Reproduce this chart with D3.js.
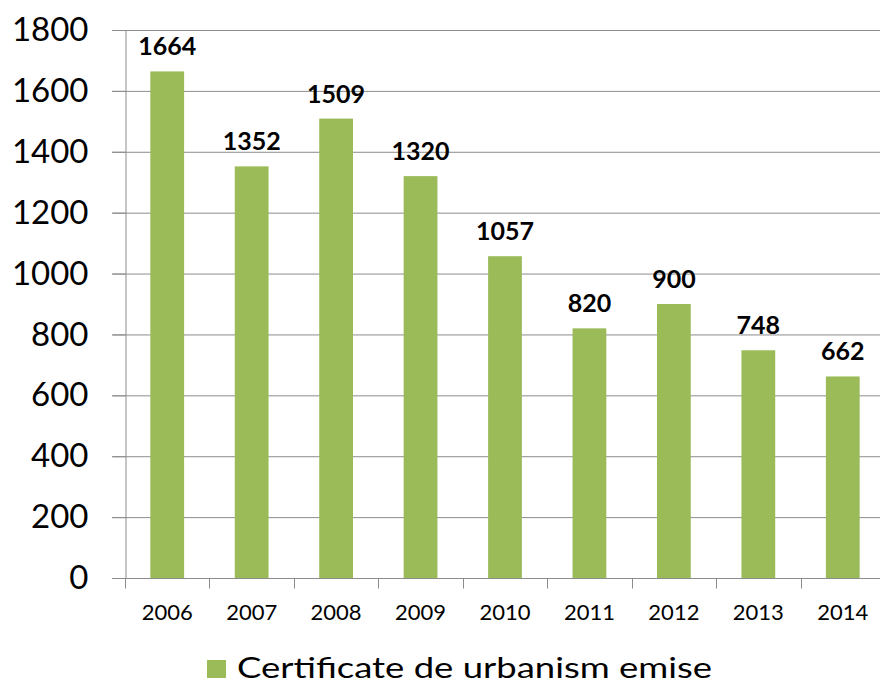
<!DOCTYPE html>
<html>
<head>
<meta charset="utf-8">
<script src="https://cdn.jsdelivr.net/npm/d3@7"></script>
<style>
  body { margin: 0; background: #fff; }
  text { font-family: Lato, "Open Sans", sans-serif; }
</style>
</head>
<body>
<div id="vis"></div>
<script>
var years = ["2006", "2007", "2008", "2009", "2010", "2011", "2012", "2013", "2014"];
var certificates = [1664, 1352, 1509, 1320, 1057, 820, 900, 748, 662];
var yTicks = [0, 200, 400, 600, 800, 1000, 1200, 1400, 1600, 1800];
var seriesName = "Certificate de urbanism emise";

var margin = { top: 30, right: 0, bottom: 108, left: 125 };
var W = 880, H = 686;
var width = 760;   // plot runs a little past the right edge, like the original
var height = H - margin.top - margin.bottom;

var barColor = "#9bbb59";
var gridColor = "#8c8c8c";

var svg = d3.select("#vis").append("svg")
  .attr("width", W)
  .attr("height", H);

var g = svg.append("g")
  .attr("transform", "translate(" + margin.left + "," + margin.top + ")");

var x = d3.scaleBand()
  .domain(years)
  .range([0, width])
  .paddingInner(0.6)
  .paddingOuter(0.3);

var y = d3.scaleLinear()
  .domain([0, 1800])
  .range([height, 0]);

// gridlines
g.append("g")
  .selectAll("line")
  .data(yTicks)
  .enter()
  .append("line")
  .attr("x1", -13)
  .attr("x2", width)
  .attr("y1", function(d) { return y(d) + 0.5; })
  .attr("y2", function(d) { return y(d) + 0.5; })
  .attr("stroke", gridColor)
  .attr("stroke-width", 1);

// y axis
var yAxis = d3.axisLeft(y)
  .tickValues(yTicks)
  .tickFormat(d3.format("d"))
  .tickSize(13)
  .tickPadding(24);

var yg = g.append("g")
  .attr("transform", "translate(0.5,0)")
  .call(yAxis);
yg.select(".domain").attr("stroke", gridColor);
yg.selectAll(".tick line").attr("stroke", gridColor);
yg.selectAll("text")
  .attr("fill", "#000")
  .style("font-size", "33px")
  .style("font-family", "Lato, sans-serif");

// x axis: ticks at band boundaries
var step = x.step();
var xg = g.append("g")
  .attr("transform", "translate(0," + (height + 0.5) + ")");
xg.append("line")
  .attr("x1", 0).attr("x2", width)
  .attr("stroke", gridColor);
xg.selectAll(".xtick")
  .data(d3.range(years.length + 1))
  .enter()
  .append("line")
  .attr("class", "xtick")
  .attr("x1", function(i) { return Math.round(i * step) + 0.5; })
  .attr("x2", function(i) { return Math.round(i * step) + 0.5; })
  .attr("y1", 0)
  .attr("y2", 10)
  .attr("stroke", gridColor);
xg.selectAll(".xlabel")
  .data(years)
  .enter()
  .append("text")
  .attr("class", "xlabel")
  .attr("x", function(d) { return x(d) + x.bandwidth() / 2; })
  .attr("y", 41)
  .attr("text-anchor", "middle")
  .style("font-size", "22px")
  .text(function(d) { return d; });

// bars
g.selectAll(".bar")
  .data(certificates)
  .enter()
  .append("rect")
  .attr("class", "bar")
  .attr("x", function(d, i) { return x(years[i]); })
  .attr("y", function(d) { return y(d); })
  .attr("width", x.bandwidth())
  .attr("height", function(d) { return height - y(d); })
  .attr("fill", barColor);

// value labels
g.selectAll(".val")
  .data(certificates)
  .enter()
  .append("text")
  .attr("class", "val")
  .attr("x", function(d, i) { return x(years[i]) + x.bandwidth() / 2; })
  .attr("y", function(d) { return y(d) - 16; })
  .attr("text-anchor", "middle")
  .style("font-size", "25px")
  .style("font-weight", "bold")
  .text(function(d) { return d; });

// legend
var legend = svg.append("g")
  .attr("transform", "translate(207,660)");
legend.append("rect")
  .attr("width", 19)
  .attr("height", 18)
  .attr("fill", barColor);
legend.append("text")
  .attr("x", 30)
  .attr("y", 18)
  .attr("textLength", 475)
  .attr("lengthAdjust", "spacingAndGlyphs")
  .style("font-size", "28px")
  .text(seriesName);
</script>
</body>
</html>
